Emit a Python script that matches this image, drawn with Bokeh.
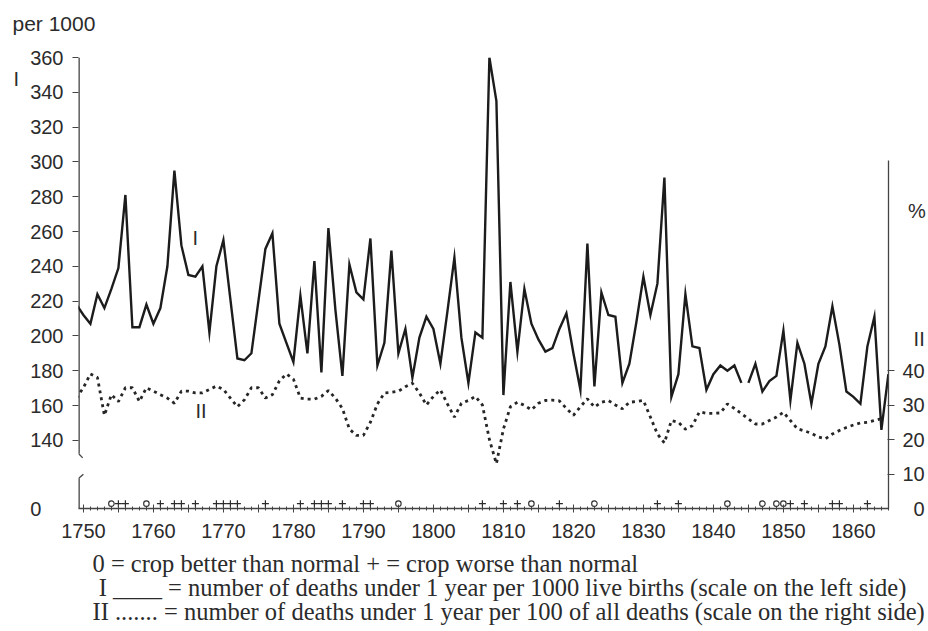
from bokeh.plotting import figure
from bokeh.models import Range1d, LinearAxis, FixedTicker, Label, Title
from bokeh.embed import file_html
from bokeh.resources import INLINE

# ------------------------------------------------------------------ data
years_I = list(range(1749, 1866))
deaths_per_1000_births = [
    218, 212, 207, 224, 216, 227, 239, 281, 205, 205,   # 1749-1758
    218, 207, 216, 240, 295, 252, 235, 234, 240, 202,   # 1759-1768
    240, 255, 221, 187, 186, 190, 220, 250, 259, 207,   # 1769-1778
    196, 185, 223, 190, 243, 179, 262, 215, 177, 241,   # 1779-1788
    225, 221, 256, 183, 196, 249, 190, 204, 176, 199,   # 1789-1798
    211, 204, 184, 214, 245, 199, 173, 202, 199, 360,   # 1799-1808
    335, 166, 231, 191, 227, 207, 198, 191, 193, 204,   # 1809-1818
    213, 190, 169, 253, 171, 225, 212, 211, 173, 184,   # 1819-1828
    208, 234, 212, 230, 291, 165, 178, 224, 194, 193,   # 1829-1838
    169, 178, 183, 180, 183, 173, 173, 184, 168, 174,   # 1839-1848
    177, 203, 163, 196, 184, 161, 184, 194, 217, 195,   # 1849-1858
    168, 165, 161, 194, 211, 146, 178,                  # 1859-1865
]
gap_after_year = 1844   # curve I is broken between 1844 and 1845

years_II = list(range(1749, 1865))
infant_share_of_deaths = [
    32, 35, 39, 38, 27, 33, 31, 35, 35, 31,             # 1749-1758
    35, 34, 33, 32, 30.5, 34, 34, 33.5, 33.5, 34.5,     # 1759-1768
    35.5, 34.5, 32, 29.5, 31.5, 35, 35, 32, 33, 37,     # 1769-1778
    39, 37.5, 32, 31.7, 31.7, 32.5, 34.2, 32, 29, 23,   # 1779-1788
    21.2, 21.2, 25, 30.3, 33.5, 33.7, 34, 35.3, 36.3, 33.5,  # 1789-1798
    30, 32.5, 34.4, 30.3, 26.5, 30.5, 31.3, 32.5, 30, 20,    # 1799-1808
    13, 23, 29.5, 30.8, 29.9, 28.6, 30.5, 31.3, 31.4, 31.2,  # 1809-1818
    29, 27, 29.5, 31.8, 29.4, 30.8, 31.3, 30, 28.9, 30.8,    # 1819-1828
    31, 31.3, 26.5, 21.6, 19, 25.5, 25, 23, 24, 28,          # 1829-1838
    27.6, 27.6, 27.7, 30.3, 29, 27.5, 26, 24.5, 24.5, 25.5,  # 1839-1848
    26.5, 27.9, 25.5, 23.1, 22.5, 21.8, 20.7, 20.2, 21.6, 22.6,  # 1849-1858
    23.5, 24.2, 24.8, 25, 25.5, 26,                          # 1859-1864
]

crop_better_years = [1754, 1759, 1795, 1814, 1823, 1842, 1847, 1849, 1850]
crop_worse_years = [1755, 1756, 1761, 1763, 1764, 1766, 1769, 1770, 1771, 1772,
                    1776, 1781, 1783, 1784, 1785, 1787, 1790, 1791, 1807, 1810,
                    1812, 1818, 1832, 1835, 1851, 1853, 1857, 1858, 1862]

left_ticks = [140, 160, 180, 200, 220, 240, 260, 280, 300, 320, 340, 360]
right_ticks = [0, 10, 20, 30, 40]
x_major_ticks = list(range(1750, 1865, 5))
x_labelled_ticks = list(range(1750, 1861, 10))

left_unit = "per 1000"
legend_lines = [
    "0 = crop better than normal + = crop worse than normal",
    "\u00a0I ____ = number of deaths under 1 year per 1000 live births (scale on the left side)",
    "II ....... = number of deaths under 1 year per 100 of all deaths (scale on the right side)",
]

# ------------------------------------------------------------------ geometry
FRAME_W, FRAME_H = 810, 451
PX_PER_YEAR = 7.0
X0 = 1749.3
X1 = X0 + FRAME_W / PX_PER_YEAR
PX_PER_LEFT = 1.74
Y_TOP = 360
Y_BOT = Y_TOP - FRAME_H / PX_PER_LEFT
PX_PER_PCT = 3.45
PCT_TOP = FRAME_H / PX_PER_PCT
NB = "\u00a0"

INK = "#2b2b2b"
AX = "#444444"
SANS = "Liberation Sans"
SERIF = "Liberation Serif"

p = figure(frame_width=FRAME_W, frame_height=FRAME_H,
           x_range=Range1d(X0, X1), y_range=Range1d(Y_BOT, Y_TOP),
           output_backend="svg", toolbar_location=None,
           min_border_left=78, min_border_right=38,
           min_border_top=57, min_border_bottom=0,
           background_fill_color="white", border_fill_color="white",
           outline_line_color=None)
p.extra_y_ranges = {"pct": Range1d(0, PCT_TOP)}
p.xgrid.visible = False
p.ygrid.visible = False

# "per 1000" above the left scale (a blank second line lifts it up)
p.title.text = left_unit + "\n" + NB
p.title.align = "left"
p.title.offset = -66
p.title.standoff = 0
p.title.text_font = SANS
p.title.text_font_size = "21px"
p.title.text_font_style = "normal"
p.title.text_line_height = 1.0
p.title.text_color = INK

# left axis: labels on major ticks, marks drawn as minor ticks
pos_I_label = Y_TOP - 21.5 / PX_PER_LEFT
yax = p.yaxis[0]
yax.ticker = FixedTicker(ticks=left_ticks + [pos_I_label, Y_BOT], minor_ticks=left_ticks)
yax.major_label_overrides = {pos_I_label: "I" + NB * 8, Y_BOT: "0" + NB * 4}
yax.major_tick_out = 6
yax.major_tick_in = 0
yax.major_tick_line_color = None
yax.minor_tick_out = 6
yax.minor_tick_in = 0
yax.minor_tick_line_color = AX
yax.minor_tick_line_width = 1.2
yax.major_label_standoff = 9
yax.axis_line_color = None
yax.major_label_text_font = SANS
yax.major_label_text_font_size = "20px"
yax.major_label_text_color = INK

# broken left axis line: long upper part + short stub at "0"
brk = Y_BOT + 55 / PX_PER_LEFT
stub_top = Y_BOT + 30 / PX_PER_LEFT
p.segment(x0=[X0, X0], y0=[brk, Y_BOT], x1=[X0, X0], y1=[Y_TOP, stub_top],
          line_color=AX, line_width=2.6)
p.segment(x0=[X0, X0], y0=[stub_top, brk], x1=[X0 + 0.7, X0 + 0.6],
          y1=[stub_top + 2.5, brk - 2.5], line_color=AX, line_width=1.3)

# right axis (% scale) with "%" and "II" as labels
pos_pct = 298 / PX_PER_PCT
pos_II = 170 / PX_PER_PCT
rax = LinearAxis(y_range_name="pct",
                 ticker=FixedTicker(ticks=right_ticks + [pos_II, pos_pct],
                                    minor_ticks=right_ticks[1:]),
                 bounds=(0, (FRAME_H - 103) / PX_PER_PCT))
rax.major_label_overrides = {0: NB * 2 + "0", pos_pct: NB + "%", pos_II: NB * 2 + "II"}
rax.major_tick_out = 0
rax.major_tick_in = 0
rax.major_tick_line_color = None
rax.minor_tick_out = 6
rax.minor_tick_in = 1
rax.minor_tick_line_color = AX
rax.minor_tick_line_width = 1.2
rax.major_label_standoff = 8
rax.axis_line_color = AX
rax.axis_line_width = 1.3
rax.major_label_text_font = SANS
rax.major_label_text_font_size = "20px"
rax.major_label_text_color = INK
p.add_layout(rax, "right")

# x axis
xax = p.xaxis[0]
xax.ticker = FixedTicker(ticks=x_major_ticks, minor_ticks=years_I)
xax.major_label_overrides = {t: "" for t in x_major_ticks if t not in x_labelled_ticks}
xax.major_tick_in = 4
xax.major_tick_out = 4
xax.minor_tick_in = 2
xax.minor_tick_out = 2
xax.major_label_standoff = 11
xax.axis_line_color = AX
xax.axis_line_width = 1.3
xax.major_tick_line_color = AX
xax.minor_tick_line_color = AX
xax.major_label_text_font = SANS
xax.major_label_text_font_size = "20px"
xax.major_label_text_color = INK

# series I (solid), broken after gap_after_year
cut = years_I.index(gap_after_year) + 1
for xs, ys in ((years_I[:cut], deaths_per_1000_births[:cut]),
               (years_I[cut:], deaths_per_1000_births[cut:])):
    p.line(xs, ys, line_color="#1c1c1c", line_width=2.4, line_join="miter")

# series II (dotted, right scale)
p.line(years_II, infant_share_of_deaths, y_range_name="pct",
       line_color="#262626", line_width=2.8, line_dash="3 4")

# crop markers
mark_y = 1.4
p.scatter(crop_better_years, [mark_y] * len(crop_better_years), y_range_name="pct",
          marker="circle", size=5.5, fill_color=None, line_color=INK, line_width=1.1)
p.scatter(crop_worse_years, [mark_y] * len(crop_worse_years), y_range_name="pct",
          marker="cross", size=7, line_color=INK, line_width=1.2)

# curve labels inside the plot
p.add_layout(Label(x=1766, y=256, text="I", text_align="center", text_baseline="middle",
                   text_font=SANS, text_font_size="20px", text_color=INK))
p.add_layout(Label(x=1766.8, y=28.4, y_range_name="pct", text="II", text_align="center",
                   text_baseline="middle", text_font=SANS, text_font_size="20px",
                   text_color=INK))

# explanation under the chart
p.add_layout(Title(text="\n".join(legend_lines), align="left", offset=14, standoff=15,
                   text_font=SERIF, text_font_size="24.5px", text_font_style="normal",
                   text_color=INK, text_line_height=0.885), "below")

open("out.html", "w").write(file_html(p, INLINE))
